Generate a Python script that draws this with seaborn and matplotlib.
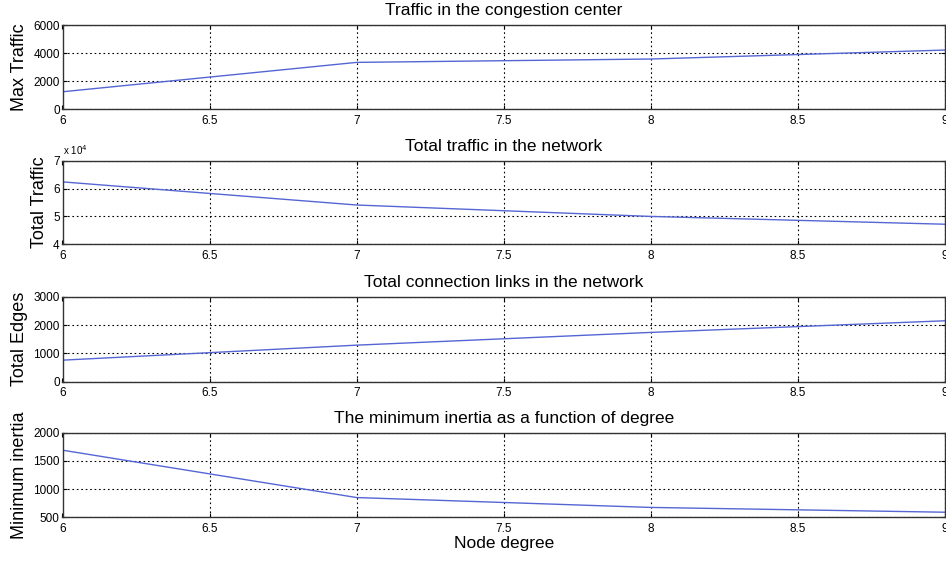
import numpy as np
import pandas as pd
import matplotlib
matplotlib.use("Agg")
import matplotlib.pyplot as plt
import seaborn as sns

# dados
degree = [6, 7, 8, 9]
max_traffic = [1230, 3330, 3570, 4210]
total_traffic = [62400, 54100, 50000, 47200]
total_edges = [760, 1290, 1740, 2150]
min_inertia = [1690, 850, 675, 590]

titles = ["Traffic in the congestion center",
          "Total traffic in the network",
          "Total connection links in the network",
          "The minimum inertia as a function of degree"]
ylabels = ["Max Traffic", "Total Traffic", "Total Edges", "Minimum inertia"]
yticks = [[0, 2000, 4000, 6000], [4, 5, 6, 7], [0, 1000, 2000, 3000], [500, 1000, 1500, 2000]]

df = pd.DataFrame({"degree": degree,
                   "Max Traffic": max_traffic,
                   "Total Traffic": np.array(total_traffic) / 1e4,
                   "Total Edges": total_edges,
                   "Minimum inertia": min_inertia})

sns.set_style("white")
plt.rcParams['font.family'] = ['Liberation Sans', 'DejaVu Sans']
plt.rcParams['text.color'] = 'black'
plt.rcParams['axes.labelcolor'] = 'black'

fig = plt.figure(figsize=(9.46, 5.63), dpi=100)
W, H = 946, 563
# posicoes dos eixos em pixels (topo, base)
boxes = [(25, 109), (160.7, 244.3), (296.7, 381.7), (432.7, 517.3)]
left, right = 62.5, 945

for i, (top, bot) in enumerate(boxes):
    ax = fig.add_axes([left / W, 1 - bot / H, (right - left) / W, (bot - top) / H])
    sns.lineplot(data=df, x="degree", y=ylabels[i], ax=ax, color="#5566d4", linewidth=1)
    ax.set_xlim(6, 9)
    ax.set_ylim(yticks[i][0], yticks[i][-1])
    ax.set_yticks(yticks[i])
    ax.set_xticks([6, 6.5, 7, 7.5, 8, 8.5, 9])
    ax.set_xticklabels(["6", "6.5", "7", "7.5", "8", "8.5", "9"])
    ax.grid(True, color="black", linestyle=(0, (1.5, 2.5)), linewidth=0.8)
    ax.tick_params(axis="x", pad=4)
    ax.tick_params(direction="in", length=3, labelsize=8.5, top=True, right=True,
                   bottom=True, left=True, colors="black")
    ax.tick_params(axis="y", pad=2)
    for s in ax.spines.values():
        s.set_color("#333333")
        s.set_linewidth(1)
    ax.set_title(titles[i], fontsize=12.5, pad=7, color="black")
    ax.set_ylabel(ylabels[i], fontsize=13, labelpad=4, color="black")
    ax.set_xlabel("")
    if i == 1:
        ax.text(0, 1.04, "x 10$^4$", transform=ax.transAxes, fontsize=7, va="bottom")
    if i == 3:
        ax.set_xlabel("Node degree", fontsize=12.5, labelpad=1, color="black")

plt.savefig("out.png", dpi=100)
